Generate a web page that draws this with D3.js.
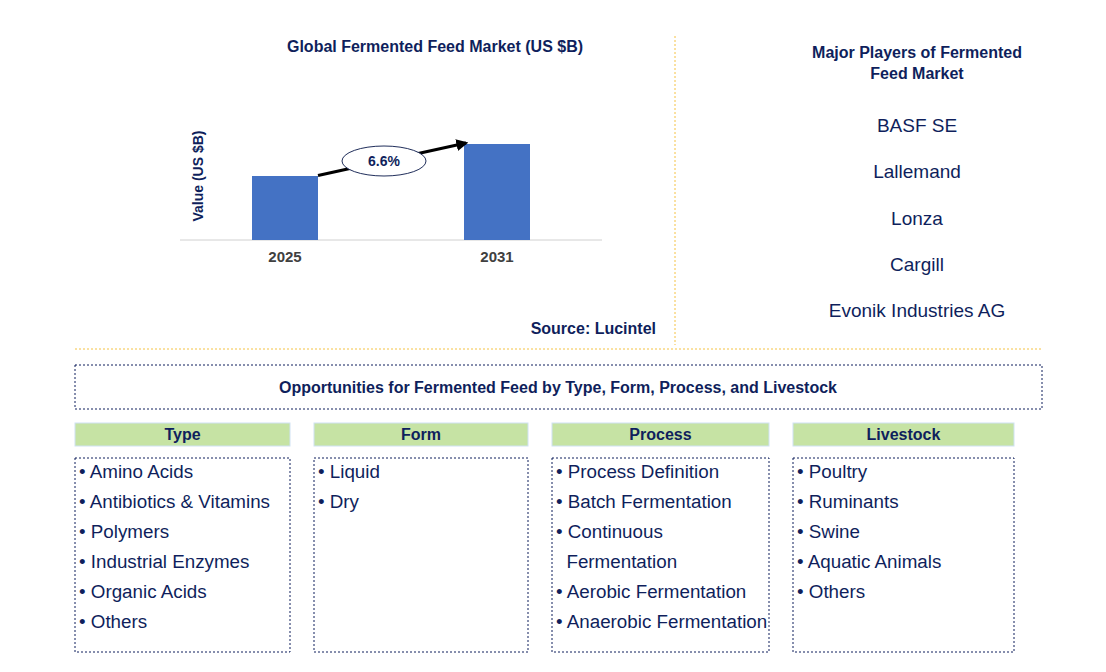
<!DOCTYPE html><html><head><meta charset="utf-8">
<script src="https://cdn.jsdelivr.net/npm/d3@7"></script>
<style>body{margin:0;background:#fff}text{font-family:Arial,"Liberation Sans",sans-serif}</style></head><body>
<svg id="c" width="1106" height="672"></svg>
<script>
const years=["2025","2031"];
const values=[2.0,3.0];
const cagr="6.6%";
const players=["BASF SE","Lallemand","Lonza","Cargill","Evonik Industries AG"];
const segHeads=["Type","Form","Process","Livestock"];
const segType=["Amino Acids","Antibiotics & Vitamins","Polymers","Industrial Enzymes","Organic Acids","Others"];
const segForm=["Liquid","Dry"];
const segProcess=["Process Definition","Batch Fermentation","Continuous","  Fermentation","Aerobic Fermentation","Anaerobic Fermentation"];
const segLivestock=["Poultry","Ruminants","Swine","Aquatic Animals","Others"];
const segLists=[segType,segForm,segProcess,segLivestock];
const navy="#0f1f5c";
const svg=d3.select("#c");
svg.append("text").attr("x",435).attr("y",52).attr("text-anchor","middle").attr("font-weight","bold").attr("font-size",16).attr("fill",navy).text("Global Fermented Feed Market (US $B)");
const x=d3.scalePoint().domain(years).range([285,497]);
const bw=66;
const y=d3.scaleLinear().domain([0,3.2]).range([240,137.6]);
svg.append("line").attr("x1",180).attr("x2",602).attr("y1",240).attr("y2",240).attr("stroke","#d0d0d0");
svg.selectAll("rect.bar").data(values).join("rect").attr("class","bar").attr("x",(d,i)=>x(years[i])-bw/2).attr("width",bw).attr("y",d=>y(d)).attr("height",d=>240-y(d)).attr("fill","#4472c4");
svg.selectAll("text.yr").data(years).join("text").attr("x",d=>x(d)).attr("y",262).attr("text-anchor","middle").attr("font-weight","bold").attr("font-size",15).attr("fill","#404040").text(d=>d);
svg.append("text").attr("transform","translate(203,176) rotate(-90)").attr("text-anchor","middle").attr("font-weight","bold").attr("font-size",14).attr("fill",navy).text("Value (US $B)");
svg.append("defs").append("marker").attr("id","ar").attr("viewBox","0 0 10 10").attr("refX",8).attr("refY",5).attr("markerWidth",4).attr("markerHeight",4).attr("orient","auto").append("path").attr("d","M0,0L10,5L0,10z").attr("fill","#000");
svg.append("line").attr("x1",x("2025")+bw/2).attr("y1",y(values[0])-0.5).attr("x2",x("2031")-bw/2+2).attr("y2",y(values[1])-1).attr("stroke","#000").attr("stroke-width",3).attr("marker-end","url(#ar)");
svg.append("ellipse").attr("cx",384).attr("cy",161).attr("rx",42).attr("ry",15).attr("fill","#fff").attr("stroke","#1f2d5a");
svg.append("text").attr("x",384).attr("y",166).attr("text-anchor","middle").attr("font-weight","bold").attr("font-size",14).attr("fill",navy).text(cagr);
svg.append("text").attr("x",656).attr("y",334).attr("text-anchor","end").attr("font-weight","bold").attr("font-size",16).attr("fill",navy).text("Source: Lucintel");
svg.append("line").attr("x1",675).attr("x2",675).attr("y1",36).attr("y2",345).attr("stroke","#f5c242").attr("stroke-dasharray","2,2");
svg.append("line").attr("x1",75).attr("x2",1042).attr("y1",349).attr("y2",349).attr("stroke","#f5c242").attr("stroke-dasharray","2,2");
svg.append("text").attr("x",917).attr("y",58).attr("text-anchor","middle").attr("font-weight","bold").attr("font-size",16).attr("fill",navy).text("Major Players of Fermented");
svg.append("text").attr("x",917).attr("y",79).attr("text-anchor","middle").attr("font-weight","bold").attr("font-size",16).attr("fill",navy).text("Feed Market");
svg.selectAll("text.pl").data(players).join("text").attr("x",917).attr("y",(d,i)=>132+i*46.3).attr("text-anchor","middle").attr("font-size",19).attr("fill",navy).text(d=>d);
svg.append("rect").attr("x",75).attr("y",365).attr("width",967).attr("height",44).attr("fill","none").attr("stroke",navy).attr("stroke-dasharray","2,2");
svg.append("text").attr("x",558).attr("y",393).attr("text-anchor","middle").attr("font-weight","bold").attr("font-size",16).attr("fill",navy).text("Opportunities for Fermented Feed by Type, Form, Process, and Livestock");
const cols=[[75,290],[314,528],[552,769],[793,1014]];
cols.forEach((c,i)=>{
 svg.append("rect").attr("x",c[0]).attr("y",423).attr("width",c[1]-c[0]).attr("height",23).attr("fill","#c6e3a4").attr("stroke","#cfe2f3");
 svg.append("text").attr("x",(c[0]+c[1])/2).attr("y",440).attr("text-anchor","middle").attr("font-weight","bold").attr("font-size",16).attr("fill",navy).text(segHeads[i]);
 svg.append("rect").attr("x",c[0]).attr("y",458).attr("width",c[1]-c[0]).attr("height",194).attr("fill","none").attr("stroke",navy).attr("stroke-dasharray","2,2");
 segLists[i].forEach((t,j)=>{
  svg.append("text").attr("x",c[0]+4).attr("y",478+j*30).attr("font-size",18.8).attr("fill",navy).attr("xml:space","preserve").text(t.startsWith("  ")?"  "+t.trim():"• "+t);
 });
});
</script></body></html>
